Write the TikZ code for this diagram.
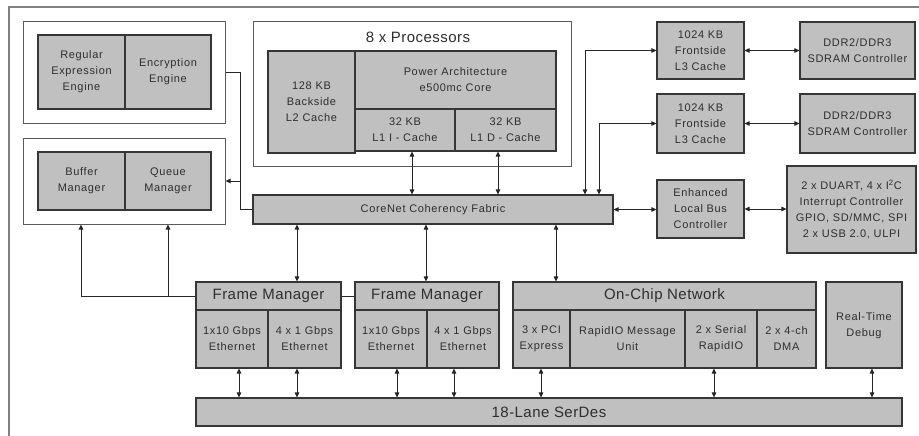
\documentclass[tikz,border=0pt]{standalone}
\usepackage{fontspec}
\setmainfont{Liberation Sans}
\newfontfamily\smf[LetterSpace=6]{Liberation Sans}
\newfontfamily\bgf[LetterSpace=3]{Liberation Sans}
\usetikzlibrary{arrows.meta,calc}
\definecolor{boxfill}{HTML}{C0C0C0}
\definecolor{boxline}{HTML}{363636}
\definecolor{contline}{HTML}{5A5A5A}
\definecolor{framecol}{HTML}{808080}
\definecolor{conncol}{HTML}{262626}
\definecolor{txtcol}{HTML}{2E2E2E}
\tikzset{
  wh/.style 2 args={minimum width=#1pt, minimum height=#2pt},
  blk/.style={draw=boxline, fill=boxfill, line width=1.1pt, inner sep=0pt, align=center,
    text=txtcol, font={\fontsize{11}{16}\smf}},
  bigblk/.style={blk, font={\fontsize{15}{18}\bgf}},
  cont/.style={draw=contline, fill=white, line width=1pt, inner sep=0pt},
  bigtxt/.style={text=txtcol, inner sep=0pt, font={\fontsize{15}{18}\bgf}},
  frameline/.style={draw=framecol, line width=1.5pt},
  conn/.style={draw=conncol, line width=0.9pt},
  dar/.style={conn, {Triangle[length=5pt,width=4.5pt]}-{Triangle[length=5pt,width=4.5pt]}},
  sar/.style={conn, -{Triangle[length=5pt,width=4.5pt]}},
}
\begin{document}
\begin{tikzpicture}[x=1pt,y=-1pt]
\useasboundingbox (0,0) rectangle (919,436);
% outer frame
\draw[frameline] (9,450) -- (9,7) -- (935,7);

% left containers
\node[cont, wh={202}{101}] (contA) at (124,72.5) {};
\node[blk, wh={87}{74}] (regex) at (81.5,72) {Regular\\Expression\\Engine};
\node[blk, wh={86}{74}] (encr) at (168,72) {Encryption\\Engine};
\node[cont, wh={202}{86}] (contB) at (124,181) {};
\node[blk, wh={87}{58}] (buf) at (81.5,181) {Buffer\\Manager};
\node[blk, wh={86}{58}] (que) at (168,181) {Queue\\Manager};

% processors
\node[cont, wh={318}{144}] (procs) at (412,94) {};
\node[bigtxt] (ptitle) at (418,37) {8 x Processors};
\node[blk, wh={87}{102}] (l2) at (311.5,102) {128 KB\\Backside\\L2 Cache};
\node[blk, wh={201}{58}] (core) at (455.5,80) {Power Architecture\\e500mc Core};
\node[blk, wh={100}{42}] (l1i) at (405,130) {32 KB\\L1 I - Cache};
\node[blk, wh={101}{42}] (l1d) at (505.5,130) {32 KB\\L1 D - Cache};

% corenet
\node[blk, wh={360}{29}] (cnf) at (433,209.5) {CoreNet Coherency Fabric};

% right column
\node[blk, wh={87}{57}] (l3a) at (700.5,50.5) {1024 KB\\Frontside\\L3 Cache};
\node[blk, wh={115}{57}] (ddra) at (857.5,50.5) {DDR2/DDR3\\SDRAM Controller};
\node[blk, wh={87}{59}] (l3b) at (700.5,123.5) {1024 KB\\Frontside\\L3 Cache};
\node[blk, wh={115}{59}] (ddrb) at (857.5,123.5) {DDR2/DDR3\\SDRAM Controller};
\node[blk, wh={87}{58}] (elb) at (700.5,209) {Enhanced\\Local Bus\\Controller};
\node[blk, wh={129}{87}] (duart) at (851.5,209.5) {2 x DUART, 4 x I\textsuperscript{2}C\\Interrupt Controller\\GPIO, SD/MMC, SPI\\2 x USB 2.0, ULPI};

% frame managers
\node[bigblk, wh={145}{28}] (fm1t) at (268.5,296) {Frame Manager};
\node[blk, wh={72}{58}] (fm1a) at (232,339) {1x10 Gbps\\Ethernet};
\node[blk, wh={73}{58}] (fm1b) at (304.5,339) {4 x 1 Gbps\\Ethernet};
\node[bigblk, wh={144}{28}] (fm2t) at (427,296) {Frame Manager};
\node[blk, wh={72}{58}] (fm2a) at (391,339) {1x10 Gbps\\Ethernet};
\node[blk, wh={72}{58}] (fm2b) at (463,339) {4 x 1 Gbps\\Ethernet};

% on-chip network
\node[bigblk, wh={303}{28}] (ocn) at (664.5,296) {On-Chip Network};
\node[blk, wh={57}{58}] (pci) at (541.5,339) {3 x PCI\\Express};
\node[blk, wh={115}{58}] (rmu) at (627.5,339) {RapidIO Message\\Unit};
\node[blk, wh={72}{58}] (srio) at (721,339) {2 x Serial\\RapidIO};
\node[blk, wh={59}{58}] (dma) at (786.5,339) {2 x 4-ch\\DMA};
\node[blk, wh={76}{86}, text depth=0pt] (rtd) at (864,325) {Real-Time\\Debug};

% serdes
\node[bigblk, wh={706}{28}] (serdes) at (549,412) {18-Lane SerDes};

% x positions
\coordinate (x81) at (81,0);
\coordinate (x168) at (168,0);
\coordinate (x239) at (239,0);
\coordinate (x240) at (240,0);
\coordinate (x297) at (297,0);
\coordinate (x397) at (397,0);
\coordinate (x412) at (412,0);
\coordinate (x426) at (426,0);
\coordinate (x454) at (454,0);
\coordinate (x498) at (498,0);
\coordinate (x541) at (541,0);
\coordinate (x556) at (556,0);
\coordinate (x585) at (585,0);
\coordinate (x599) at (599,0);
\coordinate (x714) at (714,0);
\coordinate (x872) at (872,0);

% connectors
\draw[dar] (x412 |- l1i.south) -- (x412 |- cnf.north);
\draw[dar] (x498 |- l1d.south) -- (x498 |- cnf.north);
\draw[dar] (x585 |- cnf.north) |- (l3a.west);
\draw[dar] (x599 |- cnf.north) |- (l3b.west);
\draw[dar] (l3a.east) -- (ddra.west);
\draw[dar] (l3b.east) -- (ddrb.west);
\draw[dar] (cnf.east) -- (cnf.east -| elb.west);
\draw[dar] (elb.east) -- (elb.east -| duart.west);
\draw[conn] (contA.east) -| (x240 |- cnf.west) -- (cnf.west);
\draw[sar] (x240 |- contB.east) -- (contB.east);
\draw[dar] (x297 |- cnf.south) -- (x297 |- fm1t.north);
\draw[dar] (x426 |- cnf.south) -- (x426 |- fm2t.north);
\draw[dar] (x556 |- cnf.south) -- (x556 |- ocn.north);
\draw[sar] (fm1t.west) -| (x81 |- contB.south);
\draw[sar] (x168 |- fm1t.west) -- (x168 |- contB.south);
\draw[conn] (fm1t.east) -- (fm2t.west);
\draw[dar] (x239 |- fm1a.south) -- (x239 |- serdes.north);
\draw[dar] (x297 |- fm1b.south) -- (x297 |- serdes.north);
\draw[dar] (x397 |- fm2a.south) -- (x397 |- serdes.north);
\draw[dar] (x454 |- fm2b.south) -- (x454 |- serdes.north);
\draw[dar] (x541 |- pci.south) -- (x541 |- serdes.north);
\draw[dar] (x714 |- srio.south) -- (x714 |- serdes.north);
\draw[dar] (x872 |- rtd.south) -- (x872 |- serdes.north);
\end{tikzpicture}
\end{document}
